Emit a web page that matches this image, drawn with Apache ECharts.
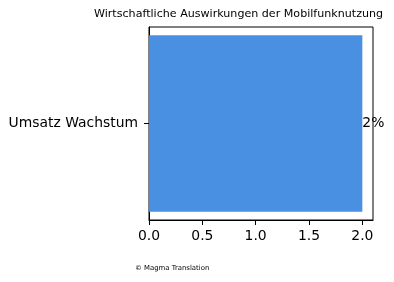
<!DOCTYPE html>
<html><head><meta charset="utf-8">
<script src="https://cdn.jsdelivr.net/npm/echarts@6/dist/echarts.min.js"></script>
<style>html,body{margin:0;padding:0;background:#fff}#c{width:394px;height:282px}</style>
</head><body><div id="c"></div>
<script>
const categories = ["Umsatz Wachstum"];
const values = [2];
const valueLabels = ["2%"];
const xTicks = [0, 0.5, 1, 1.5, 2];
const titleText = "Wirtschaftliche Auswirkungen der Mobilfunknutzung";
const footerText = "© Magma Translation";

const chart = echarts.init(document.getElementById('c'), null, {renderer: 'canvas'});
const F = 'DejaVu Sans';
chart.setOption({
  animation: false,
  textStyle: {fontFamily: F},
  title: [
    {text: titleText, left: 94, top: 9, padding: 0, textStyle: {fontFamily: F, fontSize: 11.1, fontWeight: 'normal', color: '#000'}},
    {text: footerText, left: 135, top: 265, padding: 0, textStyle: {fontFamily: F, fontSize: 6.9, fontWeight: 'normal', color: '#000'}}
  ],
  grid: {left: 149, top: 27, right: 21, bottom: 62, show: true, borderColor: '#000', borderWidth: 1, containLabel: false},
  xAxis: {
    type: 'value', min: 0, max: 2.1,
    splitLine: {show: false},
    axisLine: {show: true, lineStyle: {color: '#000'}},
    axisTick: {show: true, length: 5, lineStyle: {color: '#000'}, customValues: xTicks},
    axisLabel: {customValues: xTicks, formatter: v => v.toFixed(1), color: '#000', fontSize: 13.9, fontFamily: F, margin: 9}
  },
  yAxis: {
    type: 'category', data: categories,
    axisLine: {show: true, lineStyle: {color: '#000'}},
    axisTick: {show: true, length: 5, alignWithLabel: true, lineStyle: {color: '#000'}},
    axisLabel: {color: '#000', fontSize: 13.9, fontFamily: F, margin: 11}
  },
  series: [{
    type: 'bar', data: values, barWidth: '91.5%',
    itemStyle: {color: '#4A90E2'},
    label: {show: true, position: 'right', distance: 0, formatter: p => valueLabels[p.dataIndex], color: '#000', fontSize: 13.9, fontFamily: F}
  }]
});
</script></body></html>
